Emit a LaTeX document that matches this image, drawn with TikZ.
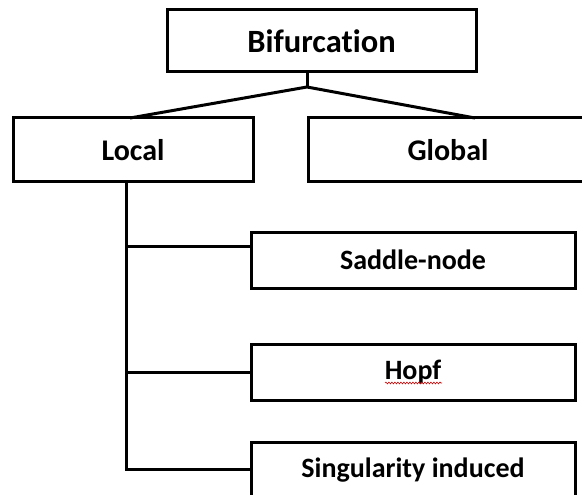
\documentclass[tikz,border=0pt]{standalone}
\usepackage{fontspec}
\setmainfont[Ligatures=NoCommon]{Carlito}
\usetikzlibrary{decorations.pathmorphing}
\tikzset{
  box/.style={draw=black, line width=3pt, inner sep=0pt, font=\bfseries},
  conn/.style={draw=black, line width=3pt},
}
\begin{document}
\begin{tikzpicture}[x=1pt,y=1pt]
\useasboundingbox (0,0) rectangle (582,-495);
\clip (0,0) rectangle (582,-495);
% nodes
\node[box, minimum width=309pt, minimum height=62pt, font=\fontsize{32.5}{36}\bfseries] (bif) at (321.5,-41) {Bifurcation};
\node[box, minimum width=240pt, minimum height=64pt, font=\fontsize{30}{34}\bfseries] (local) at (133,-150) {Local};
\node[box, minimum width=283pt, minimum height=64pt, anchor=west, font=\fontsize{30}{34}\bfseries] (global) at (307,-150) {};
\node[font=\fontsize{30}{34}\bfseries] (globaltext) at (448,-150) {Global};
\node[box, minimum width=324pt, minimum height=56pt, font=\fontsize{28}{32}\bfseries] (saddle) at (413,-260) {Saddle-node};
\node[box, minimum width=324pt, minimum height=56pt, font=\fontsize{28}{32}\bfseries] (hopf) at (413,-372) {Hopf};
\node[box, minimum width=324pt, minimum height=56pt, font=\fontsize{28}{32}\bfseries] (sing) at (413,-470) {Singularity induced};
% connectors
\coordinate (j) at (307,-87);
\coordinate (lt) at (130,-118);
\coordinate (gt) at (475,-118);
\draw[conn] (bif.south -| j) -- (j);
\draw[conn, line join=round] (lt) -- (j) -- (gt);
\coordinate (vtop) at (126,-182);
\coordinate (vbot) at (126,-469);
\draw[conn] (vtop) -- (vbot) -- (sing.west |- vbot);
\coordinate (b1) at (126,-246);
\draw[conn] (b1) -- (saddle.west |- b1);
\coordinate (b2) at (126,-372);
\draw[conn] (b2) -- (hopf.west |- b2);
% spell-check underline
\coordinate (u1) at (385,-383);
\coordinate (u2) at (442,-383);
\draw[red!80!black, line width=0.6pt, decorate, decoration={snake, amplitude=0.9pt, segment length=3pt}] (u1) -- (u2);
\end{tikzpicture}
\end{document}
